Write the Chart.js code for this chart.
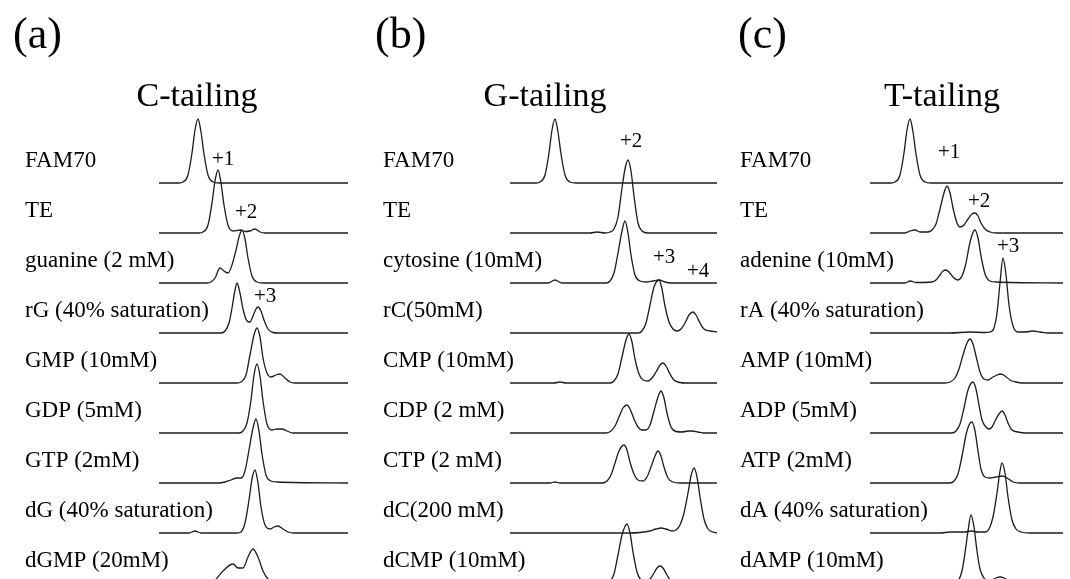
<!DOCTYPE html>
<html><head><meta charset="utf-8">
<script src="https://cdn.jsdelivr.net/npm/chart.js@4.4.1/dist/chart.umd.min.js"></script>
<style>
html,body{margin:0;padding:0;width:1070px;height:579px;overflow:hidden;background:#fff;}
canvas{position:absolute;top:0;}
</style></head><body>
<canvas id="cA" width="357" height="600" style="left:0px"></canvas>
<canvas id="cB" width="362" height="600" style="left:357px"></canvas>
<canvas id="cC" width="351" height="600" style="left:719px"></canvas>
<script>
// ---------- DATA ----------
const panelLetters = ['(a)', '(b)', '(c)'];
const panelTitles = ['C-tailing', 'G-tailing', 'T-tailing'];

const labelsA = ['FAM70', 'TE', 'guanine (2 mM)', 'rG (40% saturation)', 'GMP (10mM)', 'GDP (5mM)', 'GTP (2mM)', 'dG (40% saturation)', 'dGMP (20mM)'];
const labelsB = ['FAM70', 'TE', 'cytosine (10mM)', 'rC(50mM)', 'CMP (10mM)', 'CDP (2 mM)', 'CTP (2 mM)', 'dC(200 mM)', 'dCMP (10mM)'];
const labelsC = ['FAM70', 'TE', 'adenine (10mM)', 'rA (40% saturation)', 'AMP (10mM)', 'ADP (5mM)', 'ATP (2mM)', 'dA (40% saturation)', 'dAMP (10mM)'];

// traces: [migration, signal] pairs
const tracesA = [
  [[0,0],[20,0],[24,1],[29,8],[33,30],[36,53],[39,64],[42,51],[45,29],[49,8],[54,1],[60,0],[189,0]],
  [[0,0],[40,0],[44,1],[49,8],[53,30],[56,52],[59,63],[62,50],[65,28],[69,8],[74,2],[78,2.5],[81,3],[86,1.5],[91,2],[96,4],[101,1],[106,0],[189,0]],
  [[0,0],[48,0],[52,1],[56,5],[61,15],[65,12],[69,10],[73,18],[77,33],[80,46],[83,53],[86,44],[89,25],[93,7],[98,1],[104,0],[189,0]],
  [[0,0],[62,0],[66,2],[70,10],[73,25],[76,43],[78,50],[81,40],[84,24],[88,12],[91,11],[94,17],[97,24],[99,26],[102,22],[105,13],[109,4],[114,0.5],[120,0],[189,0]],
  [[0,0],[78,0],[82,1],[87,8],[91,28],[95,48],[98,55],[101,46],[104,25],[108,10],[112,6],[117,8],[121,9],[126,5],[131,1],[136,0],[189,0]],
  [[0,0],[80,0],[84,2],[88,10],[92,33],[95,58],[98,69],[101,57],[104,32],[108,9],[113,3],[118,4],[123,4],[128,2],[134,0],[189,0]],
  [[0,0],[60,0],[66,1],[72,3],[78,5],[82,5],[86,12],[90,33],[94,55],[97,64],[100,52],[103,29],[107,8],[112,2],[118,1],[189,0]],
  [[0,0],[30,0],[36,2],[42,0],[78,0],[82,1],[86,10],[90,33],[93,54],[96,63],[99,50],[102,26],[106,8],[111,4],[115,6],[119,7],[124,4],[129,1],[135,0],[189,0]],
  [[0,0],[50,0],[56,3],[64,12],[74,19],[79,15],[84,15],[89,26],[94,34],[99,26],[104,12],[109,4],[115,1],[189,0]]
];
const tracesB = [
  [[0,0],[26,0],[30,1],[35,8],[39,30],[42,53],[45,64],[48,51],[51,29],[55,8],[60,1],[66,0],[207,0]],
  [[0,0],[80,0],[87,1],[95,0],[100,1],[104,4],[108,16],[112,45],[115,64],[118,73],[121,62],[124,37],[128,10],[132,2],[138,0],[207,0]],
  [[0,0],[38,0],[45,3],[52,0],[96,0],[100,2],[104,10],[108,30],[112,52],[115,62],[118,50],[121,28],[125,8],[130,2],[136,1],[143,2],[149,3],[155,1],[161,0],[207,0]],
  [[0,0],[128,0],[132,2],[136,10],[140,28],[144,46],[149,53],[152,44],[155,27],[159,11],[163,4],[167,2],[171,4],[175,10],[179,18],[183,21],[186,18],[190,10],[194,4],[200,2],[207,1]],
  [[0,0],[44,0],[50,1],[56,0],[100,0],[104,2],[108,9],[112,26],[116,43],[119,49],[122,41],[125,24],[129,9],[133,3],[138,2],[142,5],[146,11],[150,18],[153,20],[156,17],[160,9],[164,3],[170,0.5],[176,0],[207,0]],
  [[0,0],[96,0],[101,2],[105,7],[109,16],[113,25],[117,28],[120,24],[124,14],[128,6],[132,3],[136,3],[140,8],[144,22],[148,36],[151,42],[154,35],[157,20],[161,6],[166,1.5],[172,1],[178,2],[182,2],[188,1],[194,0],[207,0]],
  [[0,0],[40,0],[45,1],[50,0],[92,0],[97,2],[101,8],[105,20],[109,32],[114,38],[117,33],[120,21],[124,9],[128,3],[133,2],[137,6],[141,16],[145,27],[148,32],[151,27],[154,16],[158,5],[163,1],[170,0],[207,0]],
  [[0,0],[120,0],[130,0.5],[140,2],[146,4],[151,5],[156,4],[162,2],[166,3],[170,8],[174,20],[178,40],[181,57],[184,65],[187,56],[190,36],[194,14],[198,4],[203,1],[207,0]],
  [[0,0],[96,0],[100,2],[104,9],[108,28],[112,48],[117,59],[120,50],[123,31],[127,11],[131,3],[136,1],[140,4],[144,10],[147,15],[150,17],[153,15],[157,8],[161,2],[167,0],[207,0]]
];
const tracesC = [
  [[0,0],[21,0],[25,1],[30,8],[34,30],[37,53],[40,64],[43,51],[46,29],[50,8],[55,1],[61,0],[193,0]],
  [[0,0],[35,0],[40,2],[45,3],[50,1],[58,1],[62,3],[66,9],[70,24],[74,40],[77,47],[80,40],[83,25],[87,10],[90,6],[94,8],[98,14],[102,19],[105,20],[108,17],[111,10],[115,4],[120,1],[126,0],[193,0]],
  [[0,0],[35,0],[40,2],[46,0.5],[62,1],[66,3],[70,8],[73,12],[76,13],[79,11],[83,6],[88,3],[92,7],[96,20],[99,36],[102,48],[105,53],[108,45],[111,27],[115,9],[120,2],[126,1],[193,0]],
  [[0,0],[80,0],[100,1],[115,0.5],[120,1],[124,5],[127,20],[130,50],[133,75],[136,58],[139,28],[143,7],[148,1],[155,1],[163,2],[170,1],[178,0],[193,0]],
  [[0,0],[75,0],[80,1],[85,5],[89,14],[93,28],[97,40],[100,44],[103,39],[106,27],[110,11],[114,4],[118,3],[123,6],[127,8],[131,9],[135,7],[140,3],[146,1],[152,0],[193,0]],
  [[0,0],[82,0],[86,2],[90,9],[94,25],[98,43],[103,51],[106,44],[109,28],[112,13],[116,6],[119,4],[122,6],[125,12],[129,19],[132,22],[135,18],[138,10],[142,3],[148,1],[155,0],[193,0]],
  [[0,0],[80,0],[84,2],[88,9],[92,27],[96,48],[99,58],[102,61],[105,52],[108,32],[111,14],[115,6],[120,5],[126,6],[132,7],[137,5],[143,1],[150,0],[193,0]],
  [[0,0],[70,0],[80,1],[95,1],[101,2],[108,1],[115,1],[119,4],[123,16],[127,40],[130,62],[132,70],[135,60],[138,36],[142,13],[146,4],[151,1],[160,0],[193,0]],
  [[0,0],[84,0],[88,2],[92,12],[95,30],[98,52],[101,68],[104,56],[107,32],[110,14],[114,5],[118,2],[122,3],[126,5],[130,6],[134,5],[139,2],[145,0],[193,0]]
];

// peak annotations: [text, migration, stacked signal]
const tagsA = [['+1', 53, 418], ['+2', 76, 365], ['+3', 95, 281]];
const tagsB = [['+2', 110, 436], ['+3', 143, 320], ['+4', 177, 306]];
const tagsC = [['+1', 68, 425], ['+2', 98, 376], ['+3', 127, 331]];

const laneGap = 50;      // vertical offset between stacked traces (signal units)
const migrationSpan = [189, 207, 193];

// ---------- LAYOUT (page px) ----------
const layout = [
  { id: 'cA', canvasLeft: 0,   traceStart: 159, labelX: 25,  titleCX: 197, letterX: 13 },
  { id: 'cB', canvasLeft: 357, traceStart: 510, labelX: 383, titleCX: 545, letterX: 375 },
  { id: 'cC', canvasLeft: 719, traceStart: 870, labelX: 740, titleCX: 942, letterX: 738 }
];
const SERIF = '"Liberation Serif", "Times New Roman", Times, serif';

const panels = [
  { labels: labelsA, traces: tracesA, tags: tagsA },
  { labels: labelsB, traces: tracesB, tags: tagsB },
  { labels: labelsC, traces: tracesC, tags: tagsC }
];

panels.forEach((p, k) => {
  const L = layout[k];
  const canvas = document.getElementById(L.id);
  const padLeft = L.traceStart - L.canvasLeft;
  const padRight = canvas.width - padLeft - migrationSpan[k];
  const n = p.traces.length;
  const datasets = p.traces.map((tr, i) => ({
    label: p.labels[i],
    data: tr.map(pt => ({ x: pt[0], y: pt[1] + (n - 1 - i) * laneGap })),
    borderColor: '#1c1c1c',
    borderWidth: 1.3,
    pointRadius: 0,
    fill: false,
    cubicInterpolationMode: 'monotone',
    clip: false
  }));

  const textPlugin = {
    id: 'texts' + k,
    afterDraw(chart) {
      const ctx = chart.ctx;
      const xs = chart.scales.x, ys = chart.scales.y;
      ctx.save();
      ctx.fillStyle = '#000';
      ctx.textBaseline = 'alphabetic';
      // panel letter
      ctx.textAlign = 'left';
      ctx.font = '44px ' + SERIF;
      ctx.fillText(panelLetters[k], L.letterX - L.canvasLeft, 48);
      // title
      ctx.textAlign = 'center';
      ctx.font = '34px ' + SERIF;
      ctx.fillText(panelTitles[k], L.titleCX - L.canvasLeft, 106);
      // lane labels
      ctx.textAlign = 'left';
      ctx.font = '23px ' + SERIF;
      p.labels.forEach((lab, i) => {
        const yb = ys.getPixelForValue((n - 1 - i) * laneGap);
        ctx.fillText(lab, L.labelX - L.canvasLeft, yb - 16);
      });
      // peak tags
      ctx.font = '21px ' + SERIF;
      p.tags.forEach(t => {
        ctx.fillText(t[0], xs.getPixelForValue(t[1]), ys.getPixelForValue(t[2]));
      });
      ctx.restore();
    }
  };

  new Chart(canvas, {
    type: 'line',
    data: { datasets },
    options: {
      responsive: false,
      animation: false,
      devicePixelRatio: 1,
      layout: { padding: { left: padLeft, right: padRight, top: 103, bottom: 0 } },
      plugins: { legend: { display: false }, tooltip: { enabled: false }, title: { display: false } },
      elements: { line: { capBezierPoints: false } },
      scales: {
        x: { type: 'linear', min: 0, max: migrationSpan[k], display: false },
        y: { type: 'linear', min: -17, max: 480, display: false }
      }
    },
    plugins: [textPlugin]
  });
});
</script>
</body></html>
